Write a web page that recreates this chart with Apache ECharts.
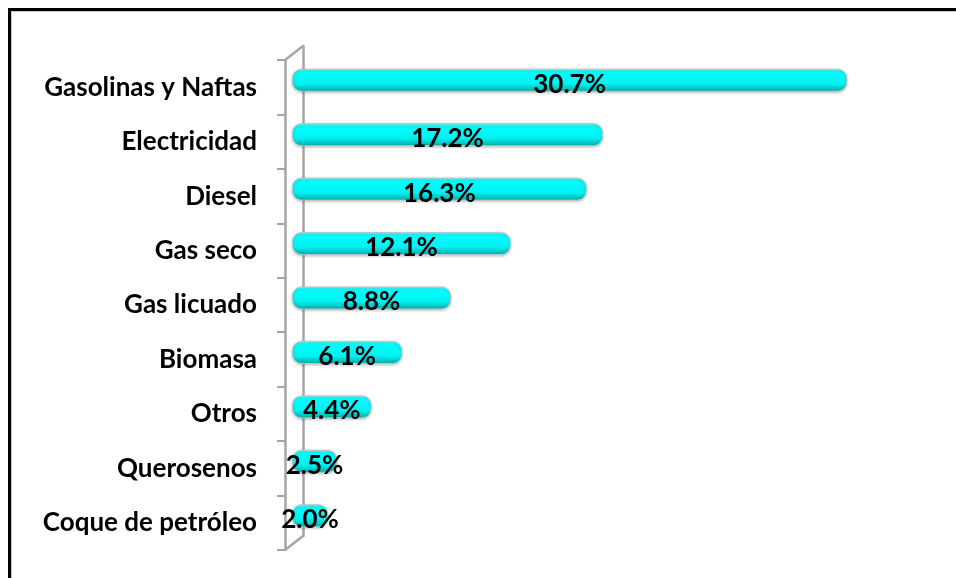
<!DOCTYPE html>
<html>
<head>
<meta charset="utf-8">
<script src="https://cdn.jsdelivr.net/npm/echarts@6/dist/echarts.min.js"></script>
<style>
  html, body { margin: 0; padding: 0; background: #fff; }
  #chart { position: absolute; left: 0; top: 0; width: 956px; height: 578px; }
  #frame {
    position: absolute; left: 8px; top: 8px; right: 0; bottom: 0;
    border-top: 3px solid #000; border-left: 3px solid #000;
    box-shadow: inset 1px 1px 0 #c8c8c8; pointer-events: none;
  }
</style>
</head>
<body>
<div id="chart"></div>
<div id="frame"></div>
<script>
// categorias y participacion (%)
const categories = ['Gasolinas y Naftas', 'Electricidad', 'Diesel', 'Gas seco', 'Gas licuado',
  'Biomasa', 'Otros', 'Querosenos', 'Coque de petróleo'];
const shares = [30.7, 17.2, 16.3, 12.1, 8.8, 6.1, 4.4, 2.5, 2.0];

const chart = echarts.init(document.getElementById('chart'));

// pared 3D: plano frontal y plano trasero
const front = { left: 285, top: 60, height: 490 };
const back = { left: 303, top: 46, height: 490 };
const wallColor = '#a6a6a6';

const hiddenX = (i) => ({ type: 'value', gridIndex: i, show: false, min: 0, max: 35 });

const option = {
  animation: false,
  grid: [
    { left: 292, top: 53, height: 490, width: 633 },
    { left: front.left, top: front.top, height: front.height, width: 10 },
    { left: back.left, top: back.top, height: back.height, width: 10 }
  ],
  xAxis: [hiddenX(0), hiddenX(1), hiddenX(2)],
  yAxis: [
    { type: 'category', gridIndex: 0, data: categories, inverse: true, show: false },
    {
      type: 'category', gridIndex: 1, data: categories, inverse: true,
      axisLine: { show: true, lineStyle: { color: wallColor, width: 2.5 } },
      axisTick: { show: true, length: 8, lineStyle: { color: wallColor, width: 2 } },
      axisLabel: {
        margin: 28, fontFamily: 'Lato', fontWeight: 'bold', fontSize: 26, color: '#000'
      }
    },
    {
      type: 'category', gridIndex: 2, data: categories, inverse: true,
      axisLine: { show: true, lineStyle: { color: wallColor, width: 2.5 } },
      axisTick: { show: false }, axisLabel: { show: false }
    }
  ],
  graphic: [
    { type: 'line', shape: { x1: front.left, y1: front.top, x2: back.left, y2: back.top },
      style: { stroke: wallColor, lineWidth: 2.5 } },
    { type: 'line', shape: { x1: front.left, y1: front.top + front.height, x2: back.left, y2: back.top + back.height },
      style: { stroke: wallColor, lineWidth: 2.5 } }
  ],
  series: [{
    type: 'bar',
    data: shares,
    barWidth: 23,
    itemStyle: {
      borderRadius: 9,
      color: new echarts.graphic.LinearGradient(0, 0, 0, 1, [
        { offset: 0, color: '#9ff6f6' },
        { offset: 0.12, color: '#00ffff' },
        { offset: 0.65, color: '#00f2f2' },
        { offset: 1, color: '#00a8a8' }
      ]),
      borderColor: '#b8c8c8',
      borderWidth: 1,
      shadowColor: 'rgba(0,0,0,0.25)',
      shadowBlur: 3,
      shadowOffsetY: 1
    },
    label: {
      show: true,
      position: 'inside',
      offset: [0, 4],
      fontFamily: 'Lato',
      fontWeight: 'bold',
      fontSize: 26,
      color: '#000',
      formatter: (p) => p.value.toFixed(1) + '%'
    }
  }]
};

chart.setOption(option);
</script>
</body>
</html>
